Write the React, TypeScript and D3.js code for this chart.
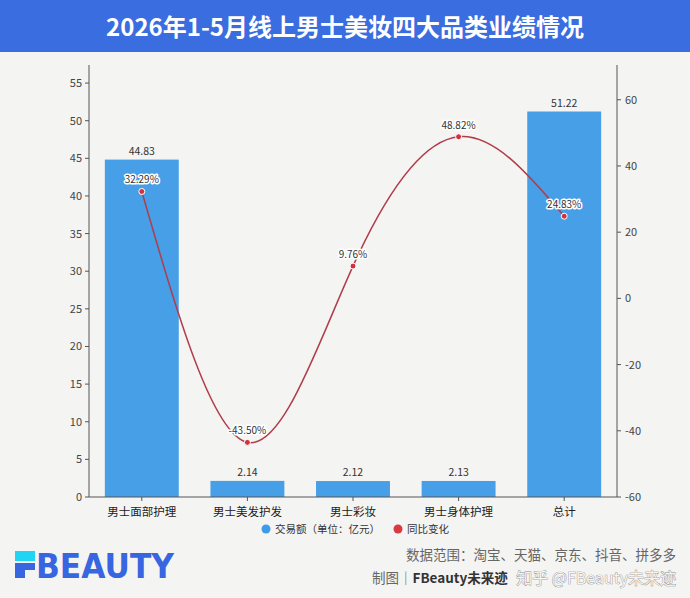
import * as d3 from "d3";

const categories = ["男士面部护理", "男士美发护发", "男士彩妆", "男士身体护理", "总计"];
const sales = [44.83, 2.14, 2.12, 2.13, 51.22];
const yoy = [32.29, -43.5, 9.76, 48.82, 24.83];
const leftTicks = [0, 5, 10, 15, 20, 25, 30, 35, 40, 45, 50, 55];
const rightTicks = [-60, -40, -20, 0, 20, 40, 60];

const W = 690;
const H = 598;
const FONT = "'Noto Sans CJK SC', 'Noto Sans', sans-serif";
const margin = { left: 89, right: 73, top: 65, bottom: 101 };

export default function App() {
  const x = d3
    .scaleBand<string>()
    .domain(categories)
    .range([margin.left, W - margin.right])
    .paddingInner(0.3)
    .paddingOuter(0.15);
  const yL = d3.scaleLinear().domain([0, 57.4]).range([H - margin.bottom, margin.top]);
  const yR = d3.scaleLinear().domain([-60, 70.5]).range([H - margin.bottom, margin.top]);
  const cx = (c: string) => (x(c) ?? 0) + x.bandwidth() / 2;

  const line = d3
    .line<number>()
    .x((_, i) => cx(categories[i]))
    .y((d) => yR(d))
    .curve(d3.curveNatural);

  const y0 = H - margin.bottom;
  const xL = margin.left;
  const xR = W - margin.right;

  return (
    <svg width={W} height={H} style={{ position: "absolute", left: 0, top: 0, fontFamily: FONT }}>
      <rect width={W} height={H} fill="#f4f4f3" />
      <rect width={W} height={52} fill="#3a6de0" />
      <text x={W / 2} y={36} textAnchor="middle" fill="#fff" fontSize={24} fontWeight="bold">
        2026年1-5月线上男士美妆四大品类业绩情况
      </text>

      {/* bars */}
      {categories.map((c, i) => (
        <g key={c}>
          <rect x={x(c)} y={yL(sales[i])} width={x.bandwidth()} height={y0 - yL(sales[i])} fill="#479fe7" />
          <text x={cx(c)} y={yL(sales[i]) - 5} textAnchor="middle" fontSize={10.5} fill="#333">
            {sales[i].toFixed(2)}
          </text>
        </g>
      ))}

      {/* axes */}
      <g stroke="#555" strokeWidth={1}>
        <line x1={xL} x2={xL} y1={margin.top} y2={y0} />
        <line x1={xR} x2={xR} y1={margin.top} y2={y0} />
        <line x1={xL} x2={xR} y1={y0} y2={y0} />
        {leftTicks.map((t) => (
          <line key={"l" + t} x1={xL - 4} x2={xL} y1={yL(t)} y2={yL(t)} />
        ))}
        {rightTicks.map((t) => (
          <line key={"r" + t} x1={xR} x2={xR + 4} y1={yR(t)} y2={yR(t)} />
        ))}
        {categories.map((c) => (
          <line key={"x" + c} x1={cx(c)} x2={cx(c)} y1={y0} y2={y0 + 4} />
        ))}
      </g>
      {leftTicks.map((t) => (
        <text key={"lt" + t} x={xL - 7} y={yL(t) + 4} textAnchor="end" fontSize={11} fill="#444">
          {t}
        </text>
      ))}
      {rightTicks.map((t) => (
        <text key={"rt" + t} x={xR + 8} y={yR(t) + 4} fontSize={11} fill="#444">
          {t}
        </text>
      ))}
      {categories.map((c) => (
        <text key={"xt" + c} x={cx(c)} y={y0 + 19} textAnchor="middle" fontSize={11.5} fill="#222">
          {c}
        </text>
      ))}

      {/* line */}
      <path d={line(yoy) ?? ""} fill="none" stroke="#b03d4a" strokeWidth={1.5} />
      {yoy.map((v, i) => (
        <g key={"p" + i}>
          <circle cx={cx(categories[i])} cy={yR(v)} r={3} fill="#d2323f" stroke="#fff" strokeWidth={1} />
          <text
            x={cx(categories[i])}
            y={yR(v) - 8}
            textAnchor="middle"
            fontSize={10}
            fill="#333"
            stroke="#fff"
            strokeWidth={3}
            paintOrder="stroke"
            strokeLinejoin="round"
          >
            {v.toFixed(2) + "%"}
          </text>
        </g>
      ))}

      {/* legend */}
      <circle cx={266} cy={529} r={4.5} fill="#3d9be8" />
      <text x={275} y={533} fontSize={10.5} fill="#333">交易额（单位：亿元）</text>
      <circle cx={398} cy={529} r={4.5} fill="#d83a42" />
      <text x={407} y={533} fontSize={10.5} fill="#333">同比变化</text>

      {/* logo */}
      <rect x={15} y={551} width={20} height={10} fill="#20d4f4" />
      <rect x={15} y={563} width={20} height={7} fill="#3766e0" />
      <rect x={15} y={570} width={10} height={8} fill="#3766e0" />
      <text x={36} y={578} fontSize={33} fontWeight={900} fill="#3766e0" fontFamily="'DejaVu Sans', sans-serif" textLength={138} lengthAdjust="spacingAndGlyphs">
        BEAUTY
      </text>

      {/* footer */}
      <text x={676} y={560} textAnchor="end" fontSize={13.5} fill="#666">
        数据范围：淘宝、天猫、京东、抖音、拼多多
      </text>
      <text x={372} y={583} fontSize={13.5} fill="#666">
        <tspan>制图｜</tspan>
        <tspan fontWeight="bold" fill="#333">FBeauty未来迹</tspan>
      </text>
      <text
        x={676}
        y={584}
        textAnchor="end"
        fontSize={16}
        fill="#fff"
        fillOpacity={0.85}
        stroke="#888"
        strokeWidth={0.7}
        paintOrder="stroke"
      >
        知乎 @FBeauty未来迹
      </text>
    </svg>
  );
}
